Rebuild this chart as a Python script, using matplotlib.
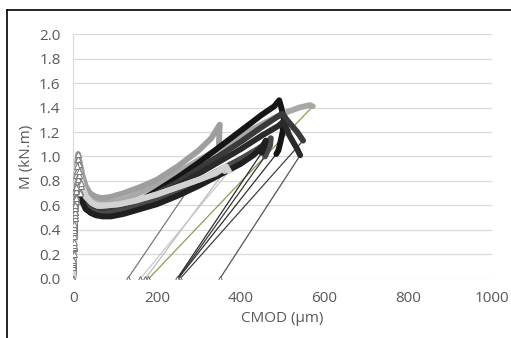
import matplotlib.pyplot as plt
from matplotlib.lines import Line2D

# Moment vs crack mouth opening for each beam: loading branch (dense readings)
# followed by the final unloading reading back at M = 0
beams = ["B1", "B2", "B3", "B4", "B5", "B6", "B7", "B8", "B9"]

cmod_b1 = [0, 1, 2, 3, 4, 5, 7, 9, 12, 16, 22, 30, 40, 55, 70, 90, 120, 160, 200, 250, 300, 330, 350, 348]
m_b1 = [0, 0.10, 0.20, 0.35, 0.50, 0.62, 0.75, 0.88, 1.02, 0.95, 0.85, 0.76, 0.70, 0.67, 0.66, 0.67, 0.70, 0.75, 0.81, 0.92, 1.05, 1.15, 1.26, 1.10]

cmod_b2 = [0, 1, 2, 3, 5, 7, 10, 14, 20, 30, 45, 60, 80, 110, 150, 200, 250, 300, 340, 365, 372]
m_b2 = [0, 0.15, 0.30, 0.45, 0.60, 0.75, 0.92, 0.88, 0.78, 0.68, 0.62, 0.60, 0.60, 0.61, 0.64, 0.69, 0.75, 0.81, 0.87, 0.92, 0.88]

cmod_b3 = [0, 1, 2, 3, 4, 6, 8, 11, 15, 20, 28, 38, 50, 65, 80, 100, 130, 170, 210, 260, 310, 360, 410, 460, 500, 540, 565, 572]
m_b3 = [0, 0.12, 0.25, 0.40, 0.55, 0.70, 0.85, 0.98, 0.94, 0.85, 0.75, 0.68, 0.64, 0.62, 0.62, 0.63, 0.66, 0.72, 0.79, 0.89, 0.99, 1.09, 1.19, 1.28, 1.35, 1.40, 1.42, 1.41]

cmod_b4 = [0, 1, 2, 3, 4, 5, 7, 9, 12, 16, 22, 30, 40, 55, 70, 90, 120, 160, 200, 250, 300, 350, 400, 450, 480, 492, 497, 503, 500, 495, 490, 485]
m_b4 = [0, 0.12, 0.25, 0.38, 0.50, 0.62, 0.72, 0.80, 0.84, 0.78, 0.68, 0.60, 0.55, 0.53, 0.53, 0.54, 0.58, 0.64, 0.72, 0.83, 0.95, 1.08, 1.21, 1.34, 1.41, 1.46, 1.40, 1.30, 1.20, 1.12, 1.05, 1.02]

cmod_b5 = [0, 1, 2, 3, 4, 6, 8, 11, 15, 21, 30, 42, 55, 70, 90, 120, 160, 200, 250, 300, 350, 400, 450, 490, 500, 510, 520, 535, 549]
m_b5 = [0, 0.12, 0.25, 0.40, 0.52, 0.64, 0.74, 0.80, 0.76, 0.68, 0.61, 0.57, 0.55, 0.55, 0.56, 0.59, 0.64, 0.70, 0.79, 0.90, 1.01, 1.12, 1.24, 1.33, 1.35, 1.30, 1.26, 1.20, 1.13]

cmod_b6 = [0, 1, 2, 3, 5, 7, 9, 12, 16, 22, 30, 42, 55, 70, 90, 120, 160, 200, 250, 300, 350, 400, 450, 490, 500, 508, 515, 525, 535, 542]
m_b6 = [0, 0.12, 0.26, 0.40, 0.55, 0.68, 0.76, 0.78, 0.72, 0.64, 0.58, 0.54, 0.52, 0.52, 0.53, 0.56, 0.61, 0.67, 0.76, 0.86, 0.96, 1.06, 1.17, 1.25, 1.28, 1.24, 1.18, 1.12, 1.06, 1.01]

cmod_b7 = [0, 1, 2, 3, 5, 7, 9, 12, 16, 22, 30, 42, 55, 70, 90, 120, 160, 200, 250, 300, 350, 400, 440, 465, 472, 470, 463, 458]
m_b7 = [0, 0.12, 0.26, 0.40, 0.55, 0.68, 0.78, 0.82, 0.76, 0.67, 0.60, 0.56, 0.54, 0.53, 0.54, 0.56, 0.60, 0.65, 0.72, 0.80, 0.89, 0.98, 1.06, 1.12, 1.15, 1.09, 1.04, 1.00]

cmod_b8 = [0, 1, 2, 3, 5, 7, 9, 12, 16, 22, 30, 42, 55, 70, 90, 120, 160, 200, 250, 300, 350, 400, 430, 452, 460, 456, 450]
m_b8 = [0, 0.12, 0.26, 0.40, 0.55, 0.66, 0.74, 0.76, 0.70, 0.63, 0.57, 0.54, 0.52, 0.51, 0.51, 0.53, 0.57, 0.61, 0.68, 0.76, 0.85, 0.94, 1.01, 1.08, 1.13, 1.08, 1.03]

cmod_b9 = [0, 1, 2, 3, 5, 7, 10, 14, 20, 30, 45, 60, 80, 110, 150, 200, 250, 300, 340, 358, 362]
m_b9 = [0, 0.14, 0.28, 0.42, 0.58, 0.72, 0.88, 0.85, 0.76, 0.67, 0.62, 0.60, 0.60, 0.61, 0.64, 0.69, 0.75, 0.81, 0.86, 0.90, 0.88]

cmod_loading = [cmod_b1, cmod_b2, cmod_b3, cmod_b4, cmod_b5, cmod_b6, cmod_b7, cmod_b8, cmod_b9]
m_loading = [m_b1, m_b2, m_b3, m_b4, m_b5, m_b6, m_b7, m_b8, m_b9]

# residual opening once fully unloaded
cmod_residual = [130, 160, 180, 250, 255, 350, 250, 248, 172]

colors = ["#9e9e9e", "#d2d2d2", "#a8a8a8", "#151515", "#3a3a3a", "#2a2a2a", "#4a4a4a", "#202020", "#c4c4c4"]
unload_colors = ["#7a7a7a", "#c8c8c8", "#8aa04a", "#303030", "#404040", "#555555", "#383838", "#2a2a2a", "#bdbdbd"]

plt.rcParams["font.family"] = ["Open Sans", "DejaVu Sans"]

fig = plt.figure(figsize=(5.11, 3.38), dpi=100)
ax = fig.add_axes([0.143, 0.175, 0.82, 0.724])

draw_order = [2, 0, 3, 4, 5, 6, 7, 8, 1]
for i in draw_order:
    xs, ys = cmod_loading[i], m_loading[i]
    # unloading branch: single thin segment to the residual opening
    ax.plot([xs[-1], cmod_residual[i]], [ys[-1], 0], color=unload_colors[i], lw=0.9,
            marker="^", markevery=[1], ms=4, mfc="white", mec="#6a6a6a", mew=0.7, zorder=2)
for i in draw_order:
    xs, ys = cmod_loading[i], m_loading[i]
    ax.plot(xs, ys, color=colors[i], lw=4.2, solid_joinstyle="round", solid_capstyle="round",
            zorder=3, label=beams[i])
    # readings near the origin show up as individual open triangles
    ax.plot(xs[:9], ys[:9], ls="none", marker="^", ms=4, mfc="white",
            mec="#7a7a7a", mew=0.7, zorder=4)

ax.set_xlim(0, 1000)
ax.set_ylim(0, 2.0)
ax.set_xticks([0, 200, 400, 600, 800, 1000])
ax.set_yticks([0.0, 0.2, 0.4, 0.6, 0.8, 1.0, 1.2, 1.4, 1.6, 1.8, 2.0])
ax.set_yticklabels([f"{v:.1f}" for v in ax.get_yticks()])
ax.grid(axis="y", color="#d9d9d9", lw=0.9)
ax.set_axisbelow(True)
for side in ["top", "right", "bottom"]:
    ax.spines[side].set_visible(False)
ax.spines["left"].set_color("#d9d9d9")
ax.tick_params(length=0, labelsize=11, labelcolor="#595959")
ax.tick_params(axis="x", pad=9)
ax.tick_params(axis="y", pad=9)
ax.set_xlabel("CMOD (µm)", fontsize=11, color="#595959", labelpad=3)
ax.set_ylabel("M (kN.m)", fontsize=11, color="#595959", labelpad=4)

# chart area border (left and top edges)
fig.add_artist(Line2D([7 / 511, 7 / 511], [0, 1 - 10 / 338], color="black", lw=1.2))
fig.add_artist(Line2D([7 / 511, 1], [1 - 10 / 338, 1 - 10 / 338], color="black", lw=1.2))

fig.savefig("out.png", dpi=100)
